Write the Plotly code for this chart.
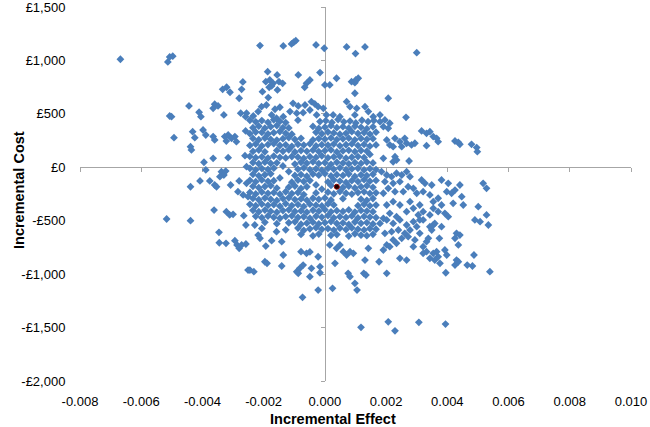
import plotly.graph_objects as go

# ---- data (incremental effect, incremental cost in GBP) ----
top_pts = [(-0.00668,1011),(-0.00513,986),(-0.00507,1033),(-0.00497,1040),
 (-0.00268,799),(-0.00334,730),(-0.00321,749),(-0.0031,702),(-0.00272,730),(-0.0028,646),
 (-0.00444,574),(-0.0036,590),(-0.00365,552),(-0.00349,574),(-0.00411,515),(-0.00405,474),
 (-0.0033,490),(-0.00275,506),(-0.00259,474),(-0.00507,480),(-0.00501,474),
 (-0.00212,1139),(-0.00136,1136),(-0.00109,1154),(-0.00102,1170),(-0.00095,1185),(-0.00029,1145),
 (-0.00002,1114),(0.00071,1126),(0.001,1064),(0.00131,1126),(-0.00187,895),(-0.00087,864),
 (-0.00016,886),(-0.00193,801),(-0.0018,817),(-0.00169,786),(-0.00156,864),(-0.0015,801),
 (-0.00138,786),(-0.00182,749),(-0.00174,761),(-0.00155,724),(-0.00204,708),(-0.00185,652),
 (-0.0006,786),(-0.00049,817),(-0.00066,749),(0.0,771),(0.00016,771),(0.00038,833),(0.00087,801),
 (0.00098,792),(0.00109,833),(0.00101,817),(0.00098,693),(0.00207,646),
 (-0.00104,599),(-0.00087,574),(-0.00065,583),(-0.00044,614),(-0.00033,593),(-0.00022,567),
 (-0.00005,552),(-0.00049,536),(-0.00071,511),(-0.00092,506),(-0.00114,521),(-0.00147,562),
 (-0.00163,543),(-0.00174,490),(-0.00191,583),(-0.00207,567),(-0.00218,521),(-0.00234,480),
 (-0.00256,506),(0.00071,614),(0.00082,567),(0.00104,552),(0.00131,567),(0.00142,521),
 (0.00158,474),(0.0018,490),(0.00098,490),(0.00049,474),(0.00027,490),(0.00005,490),
 (-0.00027,490),(-0.00136,474),(-0.00158,459),(0.003,1073),(0.00265,468)]

left_pts = [(-0.00493,277),(-0.00432,333),(-0.00425,277),(-0.00398,349),(-0.00389,302),(-0.00365,287),
 (-0.0036,256),(-0.00327,287),(-0.00316,302),(-0.00305,271),(-0.00294,287),(-0.00322,246),
 (-0.00289,240),(-0.00259,340),(-0.00439,193),(-0.00436,162),(-0.00365,84),(-0.00316,90),
 (-0.00261,109),(-0.00395,47),(-0.00389,-25),(-0.00338,-41),(-0.0033,-72),(-0.00343,-88),
 (-0.00324,-35),(-0.00376,-128),(-0.0036,-166),(-0.00354,-182),(-0.00408,-128),(-0.00439,-182),
 (-0.00308,-166),(-0.0028,-128),(-0.00256,-150),(-0.00284,-228),(-0.00267,-259),(-0.00251,-275),
 (-0.00256,6),(-0.00362,-400),(-0.00322,-415),(-0.00311,-446),(-0.003,-440),(-0.00265,-453),
 (-0.00517,-484),(-0.00439,-500),(-0.00258,-540),(-0.00346,-609),(-0.00345,-706),(-0.00323,-712),
 (-0.00294,-687),(-0.00287,-727),(-0.0028,-758),(-0.00258,-718),(-0.00251,-962)]

bottom_pts = [(-0.00229,-540),(-0.00218,-634),(-0.00212,-665),(-0.00272,-727),(-0.00193,-737),
 (-0.00174,-687),(-0.00158,-603),(-0.00141,-696),(-0.00136,-821),(-0.00196,-884),(-0.00189,-899),
 (-0.00245,-962),(-0.00232,-977),(-0.00141,-924),(-0.00092,-977),(-0.00082,-946),(-0.00071,-915),
 (-0.00087,-992),(-0.00044,-946),(-0.00049,-1024),(-0.00016,-930),(-0.00016,-987),(-0.00022,-1149),
 (-0.00073,-1217),(-0.00078,-790),(-0.0006,-805),(-0.00049,-792),(-0.00022,-837),(0.00025,-1133),
 (0.00033,-899),(0.00076,-992),(0.00082,-1024),(0.00098,-1086),(0.00105,-1149),(0.00127,-992),
 (0.00134,-1008),(0.00131,-868),(0.00177,-884),(0.00202,-992),(0.00118,-1498),(0.00207,-1446),
 (0.00071,-821),(0.00082,-790),(0.00093,-805),(0.0006,-790),(0.00142,-758),(0.00049,-727),
 (0.00038,-758),(0.00016,-727)]

right_low_pts = [(0.00395,-987),(0.00539,-977),(0.00229,-1530),(0.00307,-1451),(0.00394,-1467),
 (0.0049,-493),(0.00534,-540),(0.00487,-821),(0.00465,-915),(0.00482,-924),(0.0043,-868),
 (0.00425,-915),(0.00436,-884),(0.00398,-821),(0.00392,-774),(0.0037,-837),(0.00359,-868),
 (0.00376,-899),(0.00343,-852),(0.00354,-805),(0.00365,-790),(0.00436,-727),(0.00425,-665),
 (0.0043,-618),(0.00441,-634),(0.00374,-665),(0.00381,-556),(0.00349,-587),(0.00343,-556),
 (0.00354,-540),(0.00321,-743),(0.00332,-790),(0.00321,-805),(0.00332,-696),(0.00338,-665),
 (0.00289,-743),(0.00245,-852),(0.00267,-868),(0.00202,-727),(0.00191,-774),(0.00212,-743),
 (0.00223,-680),(0.00234,-712),(0.0018,-525),(0.00202,-493),(0.00223,-525),(0.00245,-493),
 (0.00267,-540),(0.00289,-509),(0.0031,-493),(0.00196,-618),(0.00218,-603),(0.0024,-587),
 (0.00261,-618),(0.00278,-587),(0.003,-556),(0.0031,-618),(0.00251,-665),(0.00272,-649),
 (0.00294,-680)]

right_pts = [(0.0018,427),(0.00196,443),(0.00212,412),(0.00207,365),(0.00191,380),(0.00316,340),
 (0.00332,318),(0.00343,333),(0.00354,287),(0.00365,271),(0.0037,240),(0.00332,202),(0.00425,246),
 (0.00436,234),(0.00441,215),(0.00479,215),(0.00496,184),(0.00498,146),(0.00202,256),(0.00229,271),
 (0.00245,240),(0.00261,271),(0.00267,225),(0.00283,209),(0.00294,225),(0.00223,193),(0.00251,193),
 (0.00212,209),(0.00229,99),(0.00223,52),(0.00234,68),(0.00275,59),(0.00191,84),
 (0.00185,-41),(0.00202,-72),(0.00218,-88),(0.00234,-56),(0.00251,-72),(0.00267,-41),(0.00278,-88),
 (0.00196,-135),(0.00223,-150),(0.00245,-135),(0.00207,-197),(0.00191,-243),(0.00229,-228),
 (0.00256,-228),(0.00272,-182),(0.00289,-197),(0.003,-243),(0.00316,-119),(0.00327,-150),
 (0.00349,-166),(0.00321,-228),(0.00343,-259),(0.00354,-322),(0.0037,-290),(0.00381,-119),
 (0.00403,-150),(0.00398,-228),(0.00414,-243),(0.00425,-213),(0.00441,-166),(0.00447,-275),
 (0.00419,-337),(0.00452,-353),(0.00381,-353),(0.00392,-431),(0.00403,-462),(0.0037,-415),
 (0.00354,-384),(0.00343,-446),(0.0031,-353),(0.00321,-415),(0.00278,-322),(0.00289,-384),
 (0.00305,-446),(0.00267,-415),(0.00245,-353),(0.00223,-322),(0.00202,-353),(0.00212,-431),
 (0.00234,-462),(0.00191,-478),(0.00321,-493),(0.00359,-525),(0.00501,-369),(0.00517,-150),
 (0.00528,-197),(0.00528,-446),(0.00507,-509)]

core_upper_pts = [
 (-0.00245,440),(-0.00226,425),(-0.00206,437),(-0.00186,421),(-0.00167,445),(-0.00147,430),(-0.00128,418),
 (-0.00088,441),(-0.00016,428),(0.00003,436),(0.00023,419),(0.00043,447),(0.00062,425),(0.00082,432),
 (0.00101,415),(0.00121,440),(0.00141,427),(0.0016,438),
 (-0.00235,370),(-0.00216,385),(-0.00196,366),(-0.00177,380),(-0.00157,391),(-0.00137,372),(-0.00118,368),
 (-0.00039,382),(-0.0002,363),(0.0,375),(0.0002,389),(0.00039,371),(0.00059,380),(0.00078,366),
 (0.00098,384),(0.00118,374),(0.00137,361),(0.00157,379),
 (-0.00245,315),(-0.00226,330),(-0.00206,326),(-0.00186,312),(-0.00167,324),(-0.00147,335),(-0.00128,318),
 (-0.00108,310),(-0.00029,327),(-0.0001,314),(0.0001,330),(0.00029,322),(0.00049,309),(0.00069,318),
 (0.00088,333),(0.00108,316),(0.00128,325),(0.00147,311),(0.00167,329),
 (-0.00235,270),(-0.00216,258),(-0.00196,274),(-0.00177,262),(-0.00157,255),(-0.00137,268),(-0.00118,277),
 (-0.00098,260),(-0.00078,271),(-0.00039,256),(-0.0002,269),(0.0,263),(0.0002,275),(0.00039,259),
 (0.00059,266),(0.00078,272),(0.00098,257),(0.00118,270),(0.00137,262),(0.00157,268),
 (-0.00245,205),(-0.00226,218),(-0.00206,200),(-0.00186,213),(-0.00167,221),(-0.00147,204),(-0.00128,210),
 (-0.00108,196),(-0.00088,215),(-0.00069,208),(-0.00049,220),(-0.00029,199),(-0.0001,212),(0.0001,206),
 (0.00029,217),(0.00049,201),(0.00069,211),(0.00088,219),(0.00108,203),(0.00128,214),(0.00147,198),(0.00167,209),
 (-0.00235,148),(-0.00216,161),(-0.00196,145),(-0.00157,158),(-0.00137,150),(-0.00118,164),(-0.00098,143),
 (-0.00078,156),(-0.00059,149),(-0.00039,160),(-0.0002,147),(0.0,155),(0.0002,162),(0.00039,144),
 (0.00059,153),(0.00078,159),(0.00098,146),(0.00118,157),(0.00137,151),
 (-0.00245,102),(-0.00226,90),(-0.00206,98),(-0.00186,86),(-0.00167,105),(-0.00147,93),(-0.00128,88),
 (-0.00108,101),(-0.00088,95),(-0.00069,84),(-0.00049,99),(-0.00029,92),(-0.0001,107),(0.0001,89),
 (0.00029,97),(0.00049,103),(0.00069,85),(0.00088,94),(0.00108,100),(0.00128,91),
 (-0.00235,45),(-0.00216,33),(-0.00196,48),(-0.00177,37),(-0.00157,42),(-0.00098,30),(-0.00078,46),
 (-0.00059,38),(-0.00039,51),(-0.0002,35),(0.0,43),(0.0002,28),(0.00039,47),(0.00059,39),(0.00078,32),
 (0.00098,44),(0.00118,36),(0.00137,49),(0.00157,41),(-0.00137,12),(0.00147,120)]

core_lower_pts = [
 (-0.00245,-10),(-0.00226,-24),(-0.00206,-12),(-0.00186,-20),(-0.00167,-8),(-0.00088,-18),(-0.00069,-6),
 (-0.00049,-22),(-0.00029,-14),(-0.0001,-27),(0.0001,-11),(0.00029,-19),(0.00049,-5),(0.00069,-23),
 (0.00088,-15),(0.00108,-9),(0.00128,-25),(0.00147,-13),(0.00167,-21),(-0.00118,-40),
 (-0.00235,-66),(-0.00216,-80),(-0.00196,-70),(-0.00177,-61),(-0.00098,-77),(-0.00078,-68),(-0.00059,-84),
 (-0.00039,-63),(-0.0002,-74),(0.0,-59),(0.0002,-81),(0.00039,-69),(0.00059,-76),(0.00078,-64),
 (0.00098,-86),(0.00118,-71),(0.00137,-78),(0.00157,-65),(-0.00147,-100),
 (-0.00245,-122),(-0.00226,-135),(-0.00206,-118),(-0.00186,-131),(-0.00167,-126),(-0.00108,-140),
 (-0.00088,-120),(-0.00069,-133),(-0.00049,-124),(0.0001,-137),(0.00029,-119),(0.00049,-129),
 (0.00069,-142),(0.00088,-125),(0.00108,-134),(0.00128,-116),(0.00147,-130),(0.00167,-123),
 (-0.00235,-178),(-0.00216,-191),(-0.00196,-180),(-0.00177,-172),(-0.00157,-195),(-0.00118,-186),
 (-0.00098,-175),(-0.00078,-198),(-0.00059,-182),(0.0002,-170),(0.00059,-189),(0.00078,-177),
 (0.00098,-194),(0.00118,-181),(0.00137,-173),(0.00157,-188),(-0.00029,-165),(-0.0001,-205),
 (-0.00245,-235),(-0.00226,-249),(-0.00206,-232),(-0.00186,-244),(-0.00167,-238),(-0.00147,-252),
 (-0.00128,-229),(-0.00108,-246),(-0.00088,-236),(-0.00069,-255),(-0.00029,-240),(0.0001,-233),
 (0.00029,-248),(0.00049,-227),(0.00069,-243),(0.00088,-251),(0.00108,-237),(0.00128,-230),
 (0.00147,-245),(0.00167,-239),
 (-0.00235,-291),(-0.00216,-304),(-0.00196,-288),(-0.00177,-299),(-0.00157,-310),(-0.00137,-293),
 (-0.00118,-285),(-0.00098,-302),(-0.00078,-296),(-0.00059,-308),(-0.00039,-290),(-0.0002,-300),
 (0.0,-287),(0.0002,-305),(0.00059,-294),(0.00118,-298),(0.00137,-309),(0.00157,-292),
 (-0.00245,-347),(-0.00226,-360),(-0.00206,-344),(-0.00186,-356),(-0.00167,-350),(-0.00147,-364),
 (-0.00128,-341),(-0.00108,-358),(-0.00088,-349),(-0.00069,-366),(-0.00049,-345),(-0.00029,-355),
 (-0.0001,-362),(0.0001,-343),(0.00029,-352),(0.00108,-359),(0.00128,-346),(0.00147,-361),(0.00167,-354),
 (-0.00235,-403),(-0.00216,-416),(-0.00196,-400),(-0.00177,-412),(-0.00157,-421),(-0.00137,-405),
 (-0.00118,-398),(-0.00098,-414),(-0.00078,-408),(-0.00059,-420),(-0.00039,-402),(-0.0002,-411),
 (0.0,-397),(0.0002,-417),(0.00039,-406),(0.00059,-413),(0.00078,-399),(0.00098,-419),(0.00118,-404),
 (0.00137,-410),(0.00157,-415),
 (-0.00226,-459),(-0.00206,-472),(-0.00186,-456),(-0.00167,-468),(-0.00147,-477),(-0.00128,-461),
 (-0.00108,-454),(-0.00088,-470),(-0.00069,-463),(-0.00049,-476),(-0.00029,-458),(-0.0001,-467),
 (0.0001,-452),(0.00029,-473),(0.00049,-462),(0.00069,-469),(0.00088,-455),(0.00108,-474),
 (0.00128,-460),(0.00147,-466),(0.00167,-471),
 (-0.00196,-515),(-0.00157,-528),(-0.00118,-519),(-0.00098,-510),(-0.00078,-532),(-0.00059,-523),
 (-0.00039,-514),(-0.0002,-529),(0.0,-518),(0.0002,-508),(0.00039,-526),(0.00059,-520),(0.00078,-535),
 (0.00098,-512),(0.00118,-524),(0.00137,-517),(0.00157,-530),
 (-0.00206,-572),(-0.00128,-585),(-0.00088,-569),(-0.00069,-590),(-0.00049,-576),(-0.00029,-565),
 (-0.0001,-581),(0.0001,-574),(0.00029,-588),(0.00049,-570),(0.00069,-583),(0.00088,-567),
 (0.00108,-579),(0.00128,-586),(0.00147,-573),(0.00167,-580),
 (-0.00078,-628),(-0.00039,-641),(-0.0002,-625),(0.0002,-637),(0.00039,-630),(0.00078,-644),
 (0.00098,-622),(0.00118,-635),(0.00137,-640),(0.00157,-627)]

mean_effect = [0.00039]
mean_cost = [-182]

x_tick_vals = [-0.008, -0.006, -0.004, -0.002, 0.0, 0.002, 0.004, 0.006, 0.008, 0.010]
x_tick_text = ["-0.008", "-0.006", "-0.004", "-0.002", "0.000", "0.002", "0.004", "0.006", "0.008", "0.010"]
y_tick_vals = [1500, 1000, 500, 0, -500, -1000, -1500, -2000]
y_tick_text = ["£1,500", "£1,000", "£500", "£0", "-£500", "-£1,000", "-£1,500", "-£2,000"]

all_pts = top_pts + left_pts + bottom_pts + right_low_pts + right_pts + core_upper_pts + core_lower_pts
effect = [p[0] for p in all_pts]
cost = [p[1] for p in all_pts]

XR = [-0.008, 0.010]
YR = [-2000, 1500]
FONT = "Liberation Sans, Arial, sans-serif"
AXIS_GREY = "#A6A6A6"

fig = go.Figure()
# main simulated points on the base axes (their axis lines sit at zero, below the points)
fig.add_trace(go.Scatter(x=effect, y=cost, mode="markers", xaxis="x", yaxis="y",
                         marker=dict(symbol="diamond", size=6, color="#4A7EBB", line=dict(width=0)),
                         showlegend=False, hoverinfo="skip"))
# mean point on the overlay axes (which carry the edge tick labels)
fig.add_trace(go.Scatter(x=mean_effect, y=mean_cost, mode="markers", xaxis="x2", yaxis="y2",
                         marker=dict(symbol="circle", size=5, color="#1A0000",
                                     line=dict(color="#8B0000", width=1)),
                         showlegend=False, hoverinfo="skip"))

x_zero_pos = (0 - YR[0]) / (YR[1] - YR[0])
y_zero_pos = (0 - XR[0]) / (XR[1] - XR[0])

fig.update_layout(
    width=650, height=427,
    margin=dict(l=80, r=19, t=7, b=46, autoexpand=False),
    paper_bgcolor="white", plot_bgcolor="white",
    showlegend=False,
    font=dict(family=FONT, size=13, color="#000000"),
    xaxis=dict(range=XR, anchor="free", position=x_zero_pos, side="bottom",
               tickvals=x_tick_vals, showticklabels=False, ticks="outside", ticklen=4,
               tickcolor=AXIS_GREY, showline=True, linecolor=AXIS_GREY, linewidth=1,
               showgrid=False, zeroline=False, fixedrange=True, automargin=False,
               layer="below traces"),
    yaxis=dict(range=YR, anchor="free", position=y_zero_pos, side="left",
               tickvals=y_tick_vals, showticklabels=False, ticks="outside", ticklen=4,
               tickcolor=AXIS_GREY, showline=True, linecolor=AXIS_GREY, linewidth=1,
               showgrid=False, zeroline=False, fixedrange=True, automargin=False,
               layer="below traces"),
    xaxis2=dict(range=XR, overlaying="x", anchor="y2", side="bottom",
                tickvals=x_tick_vals, ticktext=x_tick_text, ticks="outside", ticklen=8,
                tickcolor="rgba(0,0,0,0)", showline=False, showgrid=False, zeroline=False,
                tickfont=dict(family=FONT, size=13, color="#000000"), fixedrange=True,
                automargin=False, ticklabeloverflow="allow"),
    yaxis2=dict(range=YR, overlaying="y", anchor="x2", side="left",
                tickvals=y_tick_vals, ticktext=y_tick_text, ticks="outside", ticklen=11,
                tickcolor="rgba(0,0,0,0)", showline=False, showgrid=False, zeroline=False,
                tickfont=dict(family=FONT, size=13, color="#000000"), fixedrange=True,
                automargin=False, ticklabeloverflow="allow"),
    annotations=[
        dict(text="<b>Incremental Effect</b>", xref="paper", yref="paper",
             x=(333 - 80) / 551, y=0, yshift=-38, xanchor="center", yanchor="middle",
             showarrow=False, font=dict(family=FONT, size=14.5, color="#000000")),
        dict(text="<b>Incremental Cost</b>", xref="paper", yref="paper",
             x=0, xshift=-61, y=(381 - 190) / 374, xanchor="center", yanchor="middle",
             textangle=-90, showarrow=False, font=dict(family=FONT, size=14.5, color="#000000")),
    ],
)

# the page's default 8px body margin would shift the 650x427 figure; remove it
fig.write_html("out.html", config={"displayModeBar": False},
               post_script="document.body.style.margin='0px';")
